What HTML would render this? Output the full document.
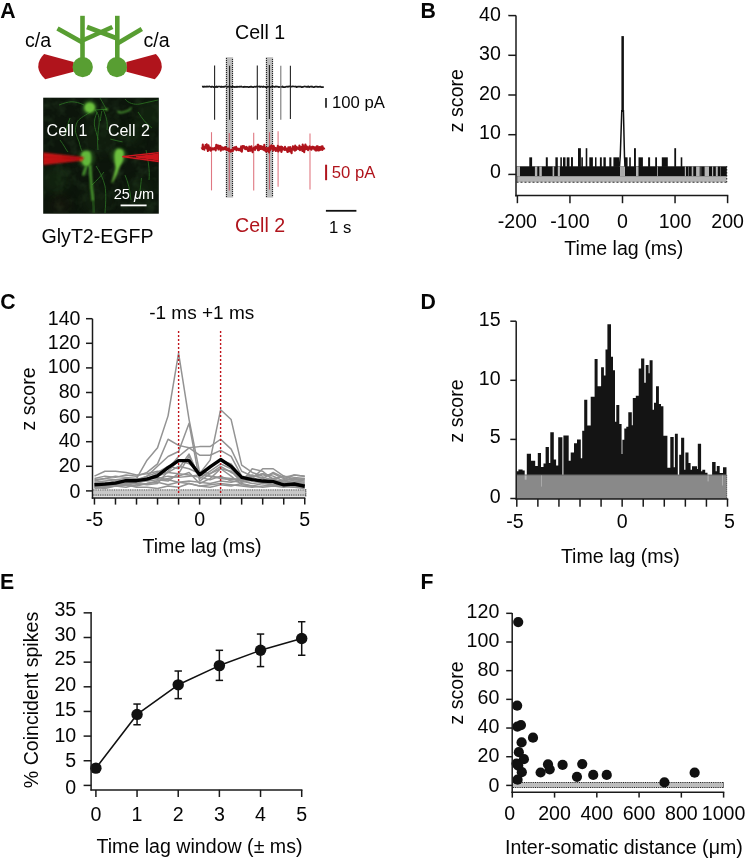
<!DOCTYPE html>
<html><head><meta charset="utf-8"><style>
html,body{margin:0;padding:0;background:#fff;}
body{width:746px;height:860px;overflow:hidden;}
svg{display:block;font-family:"Liberation Sans", sans-serif;will-change:transform;}
</style></head><body>
<svg width="746" height="860" viewBox="0 0 746 860">
<rect width="746" height="860" fill="#fff"/>
<text x="0" y="0" font-size="22.6" font-weight="bold" fill="#050505" transform="translate(0.2,17.9) scale(0.94,1)">A</text>
<text x="0" y="0" font-size="22.6" font-weight="bold" fill="#050505" transform="translate(420.4,17.8) scale(0.94,1)">B</text>
<text x="0" y="0" font-size="22.6" font-weight="bold" fill="#050505" transform="translate(0.2,308.6) scale(0.94,1)">C</text>
<text x="0" y="0" font-size="22.6" font-weight="bold" fill="#050505" transform="translate(420.6,308.5) scale(0.94,1)">D</text>
<text x="0" y="0" font-size="22.6" font-weight="bold" fill="#050505" transform="translate(0.1,589.2) scale(0.94,1)">E</text>
<text x="0" y="0" font-size="22.6" font-weight="bold" fill="#050505" transform="translate(420.6,588.8) scale(0.94,1)">F</text>
<text x="25.00" y="46.50" font-size="19.6" text-anchor="start" fill="#050505" font-weight="normal" >c/a</text>
<text x="143.50" y="46.50" font-size="19.6" text-anchor="start" fill="#050505" font-weight="normal" >c/a</text>
<path d="M73.6,62 L44.1,54 Q31.8,66.6 45.2,79.2 L73.6,71.7 Z" fill="#b0141c"/>
<path d="M126.4,62 L155.9,54 Q168.2,66.6 154.8,79.2 L126.4,71.7 Z" fill="#b0141c"/>
<line x1="82.50" y1="15.80" x2="82.50" y2="62.00" stroke="#589e32" stroke-width="4.6" />
<line x1="117.30" y1="15.80" x2="117.30" y2="62.00" stroke="#589e32" stroke-width="4.6" />
<line x1="82.50" y1="42.50" x2="57.50" y2="28.50" stroke="#589e32" stroke-width="4.6" />
<line x1="82.50" y1="40.50" x2="112.40" y2="27.00" stroke="#589e32" stroke-width="4.6" />
<line x1="117.30" y1="38.50" x2="87.00" y2="27.00" stroke="#589e32" stroke-width="4.6" />
<line x1="117.30" y1="43.50" x2="141.80" y2="29.00" stroke="#589e32" stroke-width="4.6" />
<circle cx="82.7" cy="67.1" r="10.2" fill="#589e32"/>
<circle cx="116.9" cy="67.2" r="10.1" fill="#589e32"/>
<defs>
<filter id="bl1" x="-50%" y="-50%" width="200%" height="200%"><feGaussianBlur stdDeviation="1.3"/></filter>
<filter id="bl2" x="-50%" y="-50%" width="200%" height="200%"><feGaussianBlur stdDeviation="1.0"/></filter>
<filter id="bl3" x="-50%" y="-50%" width="200%" height="200%"><feGaussianBlur stdDeviation="1.6"/></filter>
<filter id="bl5" x="-50%" y="-50%" width="200%" height="200%"><feGaussianBlur stdDeviation="0.5"/></filter>
<filter id="bl4" x="-50%" y="-50%" width="200%" height="200%"><feGaussianBlur stdDeviation="4"/></filter>
<filter id="tex" x="0" y="0" width="100%" height="100%">
 <feTurbulence type="fractalNoise" baseFrequency="0.09" numOctaves="3" seed="4" result="n"/>
 <feColorMatrix in="n" type="matrix" values="0 0 0 0 0.07  0 0 0 0 0.18  0 0 0 0 0.06  0 0 0 1.4 -0.62"/>
</filter>
<clipPath id="phc"><rect x="43.2" y="97.7" width="115.6" height="116"/></clipPath>
</defs>
<rect x="43.20" y="97.70" width="115.60" height="116.00" fill="#0c150b" />
<g clip-path="url(#phc)">
<rect x="43.2" y="97.7" width="115.6" height="116" filter="url(#tex)" opacity="0.35"/>
<circle cx="55" cy="180" r="14" fill="#1f3a18" opacity="0.35" filter="url(#bl4)"/>
<circle cx="150" cy="115" r="14" fill="#1f3a18" opacity="0.35" filter="url(#bl4)"/>
<circle cx="100" cy="135" r="20" fill="#1c3616" opacity="0.25" filter="url(#bl4)"/>
<circle cx="140" cy="190" r="12" fill="#1f3a18" opacity="0.3" filter="url(#bl4)"/>
<circle cx="96" cy="200" r="14" fill="#1c3616" opacity="0.3" filter="url(#bl4)"/>
<circle cx="60" cy="205" r="10" fill="#2a1810" opacity="0.25" filter="url(#bl4)"/>
<circle cx="132" cy="135" r="10" fill="#1f3a18" opacity="0.3" filter="url(#bl4)"/>
<path d="M91,111.5 C86,115 80,118 77.6,121.1 C75.5,125 75,130 75.6,132.4 C76.5,136 78,139 79.2,142 C80,146 81,149 82,151" stroke="#2f7a26" stroke-width="1.0" fill="none" opacity="0.75" filter="url(#bl5)"/>
<path d="M94.5,109.9 C98,112 100,118 99,125 C98,132 97,140 98,150" stroke="#2f7a26" stroke-width="1.0" fill="none" opacity="0.75" filter="url(#bl5)"/>
<path d="M59,105 C64,103 68,102 71,101.8 C75,101.5 80,103 84,105" stroke="#2f7a26" stroke-width="1.0" fill="none" opacity="0.75" filter="url(#bl5)"/>
<path d="M100,98 C103,103 105,107 106.6,109.5" stroke="#2f7a26" stroke-width="1.0" fill="none" opacity="0.75" filter="url(#bl5)"/>
<path d="M103,109 C106,116 108,122 107,130" stroke="#2f7a26" stroke-width="1.0" fill="none" opacity="0.75" filter="url(#bl5)"/>
<path d="M125,99 C128,103 134,105 140,104 C146,103 152,101 158,100" stroke="#2f7a26" stroke-width="1.0" fill="none" opacity="0.75" filter="url(#bl5)"/>
<path d="M138,112 C142,118 146,124 152,128" stroke="#2f7a26" stroke-width="1.0" fill="none" opacity="0.75" filter="url(#bl5)"/>
<path d="M96,166 C100,172 103,178 105,186 C106,192 106,200 105,213" stroke="#2f7a26" stroke-width="1.0" fill="none" opacity="0.75" filter="url(#bl5)"/>
<path d="M92,185 C97,180 101,176 104,172" stroke="#2f7a26" stroke-width="1.0" fill="none" opacity="0.75" filter="url(#bl5)"/>
<path d="M141.5,178 C141,183 140.5,187 140,191" stroke="#2f7a26" stroke-width="1.0" fill="none" opacity="0.75" filter="url(#bl5)"/>
<path d="M146,150 C148,160 150,170 149,180" stroke="#2f7a26" stroke-width="1.0" fill="none" opacity="0.75" filter="url(#bl5)"/>
<path d="M60,140 C64,145 66,150 68,152" stroke="#2f7a26" stroke-width="1.0" fill="none" opacity="0.75" filter="url(#bl5)"/>
<path d="M125,175 C128,182 130,190 131,200" stroke="#2f7a26" stroke-width="1.0" fill="none" opacity="0.75" filter="url(#bl5)"/>
<path d="M70,118 C68,124 66,130 65,136" stroke="#2f7a26" stroke-width="1.0" fill="none" opacity="0.75" filter="url(#bl5)"/>
<path d="M97.2,111.9 C95,117 94,121 94.4,125 C95,129 96,131 96.3,132.5 C97,135 97.8,138 98.2,140" stroke="#2f7a26" stroke-width="1.0" fill="none" opacity="0.75" filter="url(#bl5)"/>
<path d="M101.9,111 C101,115 100.5,118 100.5,121" stroke="#2f7a26" stroke-width="1.0" fill="none" opacity="0.75" filter="url(#bl5)"/>
<path d="M110.3,139.1 C114,140 118,141 122.5,141.9" stroke="#2f7a26" stroke-width="1.0" fill="none" opacity="0.75" filter="url(#bl5)"/>
<path d="M95,110 C99,109.5 103,109.3 106.6,109.5" stroke="#2f7a26" stroke-width="1.0" fill="none" opacity="0.75" filter="url(#bl5)"/>
<path d="M117.5,111.5 C119.5,112.6 121.5,112.8 123.1,112.3 C125.5,111.6 127.5,110.8 128.8,110.3 C130,109.5 130.8,108.5 131.2,107.5" stroke="#4da034" stroke-width="1.5" fill="none" filter="url(#bl2)"/>
<circle cx="106.6" cy="109.5" r="1.4" fill="#58ad38" filter="url(#bl2)"/>
<circle cx="102.6" cy="108.3" r="1.0" fill="#3f8a2c" filter="url(#bl2)"/>
<circle cx="89.7" cy="107.6" r="8" fill="#3a8a2a" opacity="0.35" filter="url(#bl3)"/>
<circle cx="86.5" cy="158.5" r="9" fill="#3a8a2a" opacity="0.35" filter="url(#bl3)"/>
<circle cx="119" cy="156" r="8.5" fill="#3a8a2a" opacity="0.35" filter="url(#bl3)"/>
<ellipse cx="89.7" cy="107.6" rx="5.5" ry="5.3" fill="#6cc03c" filter="url(#bl2)"/>
<path d="M81.5,153 C83,150.5 87,150 89.5,151.5 C91.5,153.5 91.8,158 91,162 C90.2,165 88,166.5 86,166.5 C83.5,166 81.5,163 81,159 C80.8,156.5 81,154.5 81.5,153 Z" fill="#62b83a" filter="url(#bl2)"/>
<path d="M90,165 C90.5,172 91,180 91.5,187 C92,192 92.8,196 93,201" stroke="#4fa632" stroke-width="2.4" fill="none" filter="url(#bl2)"/>
<path d="M86.4,166.5 C85,169.5 84,172.5 83.2,175.5" stroke="#4fa632" stroke-width="2.3" fill="none" filter="url(#bl2)"/>
<path d="M93,201 C93.5,205 94,209 94.2,213" stroke="#2f7424" stroke-width="1.6" fill="none" filter="url(#bl2)"/>
<path d="M116,150 C118,148 122,148.5 123.5,151 C124.5,154 124,158.5 122.5,162 C121,165 119.5,167 118.5,170 C117.5,174 115,178 112.5,183 L111.5,182.5 C113,178 114.5,173 115.5,168 C115,164 114.3,160 114.3,156 C114.3,153.5 115,151.5 116,150 Z" fill="#6cc03e" filter="url(#bl2)"/>
<path d="M43,152.4 L83.6,157.2 L83.6,158.6 L81.6,160.5 L43,164.9 Z" fill="#cc1419" filter="url(#bl2)"/>
<path d="M43,157 L83,158 M43,161.5 L82,159.2 M62,157.6 L76,158.3" stroke="#8a0c10" stroke-width="0.7" fill="none" filter="url(#bl2)"/>
<circle cx="81" cy="160.2" r="1.0" fill="#e08a20" filter="url(#bl2)"/>
<path d="M159,152.2 L122.3,156.4 L122.3,157.2 L159,161.9 Z" fill="#b0141c" opacity="0.35" filter="url(#bl2)"/>
<path d="M159,152.6 L122.3,156.7 L159,161.5" stroke="#d41820" stroke-width="1.3" fill="none" filter="url(#bl5)"/>
<path d="M159,153.6 L136,156.2 L136,157.4 L159,160.6 Z" fill="#cc161e" filter="url(#bl5)"/>
</g>
<text x="46.60" y="135.90" font-size="16" text-anchor="start" fill="#fff" font-weight="normal" >Cell 1</text>
<text x="107.90" y="135.90" font-size="16" text-anchor="start" fill="#fff" font-weight="normal" word-spacing="1.2">Cell 2</text>
<text x="113.7" y="198.6" font-size="14.6" fill="#fff">25 <tspan font-style="italic">μ</tspan>m</text>
<line x1="120.60" y1="205.40" x2="146.60" y2="205.40" stroke="#fff" stroke-width="1.8" />
<text x="41.50" y="242.80" font-size="19.6" text-anchor="start" fill="#050505" font-weight="normal" >GlyT2-EGFP</text>
<text x="235.00" y="38.60" font-size="19.6" text-anchor="start" fill="#050505" font-weight="normal" >Cell 1</text>
<text x="235.00" y="231.90" font-size="19.6" text-anchor="start" fill="#b0141c" font-weight="normal" >Cell 2</text>
<rect x="225.80" y="57.20" width="7.30" height="140.40" fill="#bdbdbd" />
<line x1="226.50" y1="58.00" x2="226.50" y2="197.00" stroke="#222" stroke-width="1.1" stroke-dasharray="1 1"/>
<line x1="232.50" y1="59.00" x2="232.50" y2="197.00" stroke="#222" stroke-width="1.1" stroke-dasharray="1 1"/>
<rect x="265.80" y="57.20" width="7.30" height="140.40" fill="#bdbdbd" />
<line x1="266.50" y1="58.00" x2="266.50" y2="197.00" stroke="#222" stroke-width="1.1" stroke-dasharray="1 1"/>
<line x1="272.50" y1="59.00" x2="272.50" y2="197.00" stroke="#222" stroke-width="1.1" stroke-dasharray="1 1"/>
<polyline points="202.00,86.66 202.70,86.52 203.40,86.92 204.10,86.46 204.80,86.83 205.50,86.69 206.20,86.45 206.90,86.81 207.60,86.43 208.30,86.75 209.00,86.46 209.70,86.47 210.40,86.74 211.10,87.06 211.80,86.50 212.50,86.58 213.20,86.90 213.90,87.16 214.60,86.86 215.30,86.72 216.00,87.18 216.70,86.44 217.40,87.09 218.10,86.63 218.80,86.52 219.50,86.49 220.20,86.65 220.90,87.05 221.60,86.54 222.30,86.87 223.00,86.91 223.70,86.70 224.40,86.84 225.10,86.45 225.80,86.45 226.50,86.56 227.20,86.94 227.90,86.74 228.60,86.65 229.30,86.87 230.00,86.76 230.70,86.64 231.40,87.04 232.10,86.96 232.80,86.60 233.50,86.86 234.20,86.82 234.90,87.10 235.60,86.98 236.30,86.63 237.00,87.18 237.70,86.49 238.40,86.73 239.10,87.01 239.80,86.52 240.50,86.79 241.20,86.43 241.90,86.93 242.60,87.01 243.30,86.86 244.00,87.10 244.70,86.65 245.40,86.96 246.10,86.88 246.80,86.86 247.50,86.76 248.20,87.07 248.90,87.16 249.60,86.78 250.30,86.93 251.00,86.45 251.70,86.96 252.40,86.92 253.10,87.19 253.80,87.06 254.50,86.63 255.20,86.71 255.90,86.93 256.60,86.42 257.30,86.77 258.00,86.53 258.70,86.49 259.40,86.45 260.10,87.01 260.80,86.50 261.50,86.60 262.20,86.71 262.90,87.10 263.60,86.46 264.30,86.76 265.00,86.84 265.70,87.11 266.40,87.06 267.10,87.09 267.80,86.62 268.50,86.73 269.20,86.69 269.90,87.11 270.60,87.17 271.30,86.52 272.00,86.54 272.70,86.59 273.40,86.59 274.10,86.79 274.80,86.87 275.50,86.61 276.20,86.40 276.90,86.74 277.60,86.70 278.30,86.85 279.00,87.16 279.70,86.95 280.40,86.81 281.10,86.89 281.80,86.94 282.50,86.44 283.20,87.12 283.90,87.02 284.60,87.10 285.30,87.04 286.00,86.71 286.70,86.72 287.40,86.48 288.10,86.91 288.80,86.45 289.50,86.45 290.20,86.57 290.90,86.53 291.60,86.67 292.30,86.44 293.00,86.40 293.70,86.52 294.40,86.48 295.10,86.69 295.80,86.42 296.50,87.10 297.20,86.89 297.90,86.52 298.60,86.60 299.30,86.68 300.00,86.69 300.70,86.50 301.40,87.08 302.10,87.19 302.80,86.77 303.50,86.79 304.20,86.47 304.90,86.48 305.60,86.67 306.30,86.61 307.00,87.06 307.70,86.53 308.40,86.42 309.10,87.16 309.80,86.82 310.50,86.52 311.20,86.83 311.90,86.42 312.60,86.82 313.30,87.18 314.00,87.09 314.70,86.96 315.40,86.61 316.10,86.69 316.80,86.53 317.50,87.02 318.20,86.83 318.90,87.02 319.60,86.66 320.30,86.58 321.00,87.05 321.70,87.19 322.40,87.08 323.10,87.04 323.80,87.05" fill="none" stroke="#1a1a1a" stroke-width="1.7" stroke-linejoin="round" />
<line x1="214.60" y1="65.40" x2="214.60" y2="119.70" stroke="#222" stroke-width="1.1" />
<line x1="229.60" y1="65.80" x2="229.60" y2="119.70" stroke="#222" stroke-width="1.1" />
<line x1="257.30" y1="65.40" x2="257.30" y2="119.70" stroke="#222" stroke-width="1.1" />
<line x1="269.40" y1="65.00" x2="269.40" y2="119.00" stroke="#222" stroke-width="1.1" />
<line x1="280.80" y1="65.80" x2="280.80" y2="119.70" stroke="#777" stroke-width="1.1" />
<line x1="290.40" y1="65.80" x2="290.40" y2="119.00" stroke="#222" stroke-width="1.1" />
<line x1="211.50" y1="132.20" x2="211.50" y2="190.40" stroke="#cc2030" stroke-width="1.1" opacity="0.6"/>
<line x1="229.30" y1="133.10" x2="229.30" y2="190.40" stroke="#cc2030" stroke-width="1.1" opacity="0.6"/>
<line x1="253.70" y1="132.80" x2="253.70" y2="190.40" stroke="#cc2030" stroke-width="1.1" opacity="0.6"/>
<line x1="269.50" y1="132.20" x2="269.50" y2="189.60" stroke="#cc2030" stroke-width="1.1" opacity="0.6"/>
<line x1="278.10" y1="131.30" x2="278.10" y2="186.70" stroke="#cc2030" stroke-width="1.1" opacity="0.6"/>
<line x1="310.00" y1="133.50" x2="310.00" y2="189.40" stroke="#cc2030" stroke-width="1.1" opacity="0.6"/>
<polyline points="201.60,147.19 201.90,147.81 202.20,148.08 202.50,149.06 202.80,144.50 203.10,148.31 203.40,147.62 203.70,148.52 204.00,148.73 204.30,149.80 204.60,146.75 204.90,148.22 205.20,147.43 205.50,145.11 205.80,145.52 206.10,147.79 206.40,146.51 206.70,144.41 207.00,148.63 207.30,147.42 207.60,148.86 207.90,151.01 208.20,147.84 208.50,145.41 208.80,147.65 209.10,148.37 209.40,149.58 209.70,147.65 210.00,148.65 210.30,147.66 210.60,150.59 210.90,150.46 211.20,148.70 211.50,149.47 211.80,148.58 212.10,149.41 212.40,148.30 212.70,148.53 213.00,148.68 213.30,149.44 213.60,149.35 213.90,148.43 214.20,149.20 214.50,148.17 214.80,148.07 215.10,147.65 215.40,147.72 215.70,150.42 216.00,147.64 216.30,144.69 216.60,148.14 216.90,147.13 217.20,145.69 217.50,146.55 217.80,146.50 218.10,145.39 218.40,149.52 218.70,147.26 219.00,148.82 219.30,148.37 219.60,148.73 219.90,145.83 220.20,147.61 220.50,146.01 220.80,150.62 221.10,148.32 221.40,148.34 221.70,148.32 222.00,147.34 222.30,148.49 222.60,148.50 222.90,149.60 223.20,148.11 223.50,147.96 223.80,149.41 224.10,147.58 224.40,147.85 224.70,148.08 225.00,148.59 225.30,147.13 225.60,149.47 225.90,147.43 226.20,149.56 226.50,148.15 226.80,148.40 227.10,150.07 227.40,149.44 227.70,148.74 228.00,148.93 228.30,149.09 228.60,148.47 228.90,150.94 229.20,149.08 229.50,150.98 229.80,150.38 230.10,150.08 230.40,150.88 230.70,151.75 231.00,151.01 231.30,150.64 231.60,149.75 231.90,150.21 232.20,149.50 232.50,149.68 232.80,151.10 233.10,149.87 233.40,148.08 233.70,148.78 234.00,148.94 234.30,147.34 234.60,147.97 234.90,149.36 235.20,149.41 235.50,147.91 235.80,149.52 236.10,146.89 236.40,148.13 236.70,150.28 237.00,149.15 237.30,149.11 237.60,148.48 237.90,148.86 238.20,149.09 238.50,149.35 238.80,150.14 239.10,148.85 239.40,148.82 239.70,149.40 240.00,148.96 240.30,149.08 240.60,150.77 240.90,148.07 241.20,146.41 241.50,147.49 241.80,151.70 242.10,150.16 242.40,147.97 242.70,146.02 243.00,146.63 243.30,147.61 243.60,147.77 243.90,146.08 244.20,146.76 244.50,147.37 244.80,147.67 245.10,148.88 245.40,149.15 245.70,147.26 246.00,147.12 246.30,146.93 246.60,148.90 246.90,147.17 247.20,147.99 247.50,149.73 247.80,149.34 248.10,150.99 248.40,151.04 248.70,148.85 249.00,149.94 249.30,146.49 249.60,147.04 249.90,148.88 250.20,150.80 250.50,150.08 250.80,148.49 251.10,150.48 251.40,146.30 251.70,149.82 252.00,148.26 252.30,150.32 252.60,152.20 252.90,148.46 253.20,148.76 253.50,148.07 253.80,149.30 254.10,148.18 254.40,147.99 254.70,147.24 255.00,150.00 255.30,147.40 255.60,146.56 255.90,146.81 256.20,147.83 256.50,147.63 256.80,148.26 257.10,148.44 257.40,147.39 257.70,144.81 258.00,150.11 258.30,144.87 258.60,149.07 258.90,150.25 259.20,146.18 259.50,147.24 259.80,147.10 260.10,146.05 260.40,146.84 260.70,148.92 261.00,148.63 261.30,147.10 261.60,146.21 261.90,146.83 262.20,147.48 262.50,149.24 262.80,148.85 263.10,147.11 263.40,149.54 263.70,149.89 264.00,149.60 264.30,144.74 264.60,150.57 264.90,150.11 265.20,148.81 265.50,149.19 265.80,147.70 266.10,151.70 266.40,148.93 266.70,149.75 267.00,149.90 267.30,149.90 267.60,151.10 267.90,148.05 268.20,150.06 268.50,148.83 268.80,149.39 269.10,152.44 269.40,150.19 269.70,146.62 270.00,149.76 270.30,150.08 270.60,149.23 270.90,146.05 271.20,148.47 271.50,145.40 271.80,148.26 272.10,148.21 272.40,147.47 272.70,146.07 273.00,149.68 273.30,150.55 273.60,145.84 273.90,146.80 274.20,147.26 274.50,148.59 274.80,147.74 275.10,148.06 275.40,149.66 275.70,150.93 276.00,148.23 276.30,149.86 276.60,148.20 276.90,150.80 277.20,149.19 277.50,149.34 277.80,145.86 278.10,148.13 278.40,151.55 278.70,146.78 279.00,148.46 279.30,146.81 279.60,150.17 279.90,147.81 280.20,148.75 280.50,149.16 280.80,150.65 281.10,146.61 281.40,152.00 281.70,150.66 282.00,149.26 282.30,147.12 282.60,148.08 282.90,149.55 283.20,149.32 283.50,148.17 283.80,148.88 284.10,148.29 284.40,148.65 284.70,149.92 285.00,146.85 285.30,148.89 285.60,149.63 285.90,148.30 286.20,149.95 286.50,150.26 286.80,149.96 287.10,149.41 287.40,151.79 287.70,151.95 288.00,150.71 288.30,147.27 288.60,149.68 288.90,149.44 289.20,148.88 289.50,151.19 289.80,149.45 290.10,147.10 290.40,149.43 290.70,151.03 291.00,152.08 291.30,149.13 291.60,153.24 291.90,148.83 292.20,148.28 292.50,149.55 292.80,146.30 293.10,146.48 293.40,149.29 293.70,149.04 294.00,148.32 294.30,150.19 294.60,148.25 294.90,150.60 295.20,145.67 295.50,146.42 295.80,149.29 296.10,149.79 296.40,148.52 296.70,147.03 297.00,148.29 297.30,147.54 297.60,148.10 297.90,148.56 298.20,149.05 298.50,148.34 298.80,148.48 299.10,148.82 299.40,145.60 299.70,146.20 300.00,150.10 300.30,149.90 300.60,149.52 300.90,148.95 301.20,148.77 301.50,146.99 301.80,149.34 302.10,148.32 302.40,150.97 302.70,144.47 303.00,149.18 303.30,146.00 303.60,148.28 303.90,149.12 304.20,152.18 304.50,146.56 304.80,149.84 305.10,147.99 305.40,144.44 305.70,149.21 306.00,147.25 306.30,148.41 306.60,148.94 306.90,146.43 307.20,147.85 307.50,149.35 307.80,148.71 308.10,150.13 308.40,147.52 308.70,148.72 309.00,146.94 309.30,148.16 309.60,146.28 309.90,148.78 310.20,147.48 310.50,147.09 310.80,148.61 311.10,147.45 311.40,149.77 311.70,147.80 312.00,147.03 312.30,146.71 312.60,147.17 312.90,148.44 313.20,147.26 313.50,147.67 313.80,146.89 314.10,147.68 314.40,149.32 314.70,147.47 315.00,147.49 315.30,147.33 315.60,150.36 315.90,148.01 316.20,149.85 316.50,150.33 316.80,146.23 317.10,150.34 317.40,149.71 317.70,146.40 318.00,149.52 318.30,149.37 318.60,148.75 318.90,150.52 319.20,148.09 319.50,147.04 319.80,149.04 320.10,149.93 320.40,147.70 320.70,149.58 321.00,147.25 321.30,146.56 321.60,147.92 321.90,146.50 322.20,150.03 322.50,146.20 322.80,149.29 323.10,148.43 323.40,148.14 323.70,148.21 324.00,148.48 324.30,149.46" fill="none" stroke="#b0141c" stroke-width="2.1" stroke-linejoin="round" />
<line x1="326.00" y1="98.00" x2="326.00" y2="107.80" stroke="#111" stroke-width="1.6" />
<text x="332.00" y="107.80" font-size="16.7" text-anchor="start" fill="#050505" font-weight="normal" >100 pA</text>
<line x1="326.10" y1="164.70" x2="326.10" y2="180.20" stroke="#b0141c" stroke-width="2" />
<text x="331.80" y="178.00" font-size="16.7" text-anchor="start" fill="#b0141c" font-weight="normal" >50 pA</text>
<line x1="325.90" y1="210.80" x2="356.40" y2="210.80" stroke="#111" stroke-width="1.8" />
<text x="329.10" y="232.70" font-size="16.7" text-anchor="start" fill="#050505" font-weight="normal" >1 s</text>
<rect x="516.50" y="166.10" width="210.20" height="16.20" fill="#b4b4b4" />
<line x1="516.50" y1="182.30" x2="726.70" y2="182.30" stroke="#333" stroke-width="1.1" stroke-dasharray="2 2"/>
<line x1="726.70" y1="166.10" x2="726.70" y2="182.30" stroke="#333" stroke-width="1.1" stroke-dasharray="1.5 1.5"/>
<line x1="517.20" y1="166.50" x2="517.20" y2="182.30" stroke="#333" stroke-width="0.9" stroke-dasharray="1 1"/>
<rect x="516.50" y="166.40" width="210.20" height="9.80" fill="#111" />
<rect x="516.50" y="166.40" width="3.50" height="9.80" fill="#b4b4b4" />
<rect x="534.90" y="166.40" width="2.40" height="9.80" fill="#b4b4b4" />
<rect x="539.30" y="166.40" width="2.50" height="9.80" fill="#b4b4b4" />
<rect x="552.60" y="166.40" width="1.60" height="9.80" fill="#b4b4b4" />
<rect x="557.80" y="166.40" width="2.10" height="9.80" fill="#b4b4b4" />
<rect x="620.00" y="166.40" width="5.00" height="9.80" fill="#b4b4b4" />
<rect x="636.00" y="166.40" width="2.50" height="9.80" fill="#b4b4b4" />
<rect x="657.20" y="166.40" width="0.80" height="9.80" fill="#b4b4b4" />
<rect x="684.80" y="166.40" width="1.20" height="9.80" fill="#b4b4b4" />
<rect x="691.70" y="166.40" width="1.60" height="9.80" fill="#b4b4b4" />
<rect x="696.10" y="166.40" width="3.60" height="9.80" fill="#b4b4b4" />
<rect x="704.60" y="166.40" width="4.40" height="9.80" fill="#b4b4b4" />
<rect x="712.00" y="166.40" width="1.20" height="9.80" fill="#b4b4b4" />
<rect x="715.80" y="166.40" width="2.00" height="9.80" fill="#b4b4b4" />
<rect x="700.50" y="166.40" width="0.80" height="9.80" fill="#777" />
<rect x="688.00" y="166.40" width="0.80" height="9.80" fill="#777" />
<rect x="720.00" y="166.40" width="0.80" height="9.80" fill="#777" />
<rect x="529.30" y="157.33" width="2.80" height="9.57" fill="#111" />
<rect x="545.80" y="157.33" width="2.00" height="9.57" fill="#111" />
<rect x="555.40" y="157.33" width="2.40" height="9.57" fill="#111" />
<rect x="560.30" y="157.33" width="1.60" height="9.57" fill="#111" />
<rect x="563.00" y="157.33" width="2.50" height="9.57" fill="#111" />
<rect x="566.70" y="157.33" width="2.80" height="9.57" fill="#111" />
<rect x="571.10" y="157.33" width="1.60" height="9.57" fill="#111" />
<rect x="571.20" y="157.33" width="1.60" height="9.57" fill="#111" />
<rect x="581.30" y="157.33" width="1.60" height="9.57" fill="#111" />
<rect x="589.30" y="157.33" width="3.60" height="9.57" fill="#111" />
<rect x="595.00" y="157.33" width="1.50" height="9.57" fill="#111" />
<rect x="599.90" y="157.33" width="1.90" height="9.57" fill="#111" />
<rect x="603.40" y="157.33" width="2.40" height="9.57" fill="#111" />
<rect x="609.30" y="157.33" width="2.10" height="9.57" fill="#111" />
<rect x="613.40" y="157.33" width="5.70" height="9.57" fill="#111" />
<rect x="624.50" y="157.33" width="3.10" height="9.57" fill="#111" />
<rect x="629.20" y="157.33" width="1.60" height="9.57" fill="#111" />
<rect x="638.50" y="157.33" width="4.40" height="9.57" fill="#111" />
<rect x="648.10" y="157.33" width="2.00" height="9.57" fill="#111" />
<rect x="655.20" y="157.33" width="1.80" height="9.57" fill="#111" />
<rect x="661.80" y="157.33" width="6.00" height="9.57" fill="#111" />
<rect x="680.70" y="157.33" width="1.60" height="9.57" fill="#111" />
<rect x="578.00" y="148.20" width="2.90" height="18.70" fill="#111" />
<rect x="585.70" y="148.20" width="1.60" height="18.70" fill="#111" />
<rect x="634.00" y="148.20" width="1.90" height="18.70" fill="#111" />
<rect x="674.30" y="148.20" width="1.80" height="18.70" fill="#111" />
<rect x="621.40" y="36.10" width="2.50" height="75.90" fill="#111" />
<polyline points="619.50,166.40 620.30,155.00 621.80,110.00" fill="none" stroke="#111" stroke-width="1.5" stroke-linejoin="round" />
<polyline points="623.40,110.00 624.50,157.00 625.10,166.40" fill="none" stroke="#111" stroke-width="1.5" stroke-linejoin="round" />
<rect x="620.40" y="166.40" width="4.00" height="9.80" fill="#aaa" />
<line x1="516.00" y1="15.60" x2="516.00" y2="196.40" stroke="#1a1a1a" stroke-width="1.5" />
<line x1="515.30" y1="195.60" x2="728.30" y2="195.60" stroke="#1a1a1a" stroke-width="1.5" />
<line x1="508.30" y1="174.40" x2="516.00" y2="174.40" stroke="#1a1a1a" stroke-width="1.5" />
<text x="500.80" y="178.30" font-size="19.6" text-anchor="end" fill="#050505" font-weight="normal" >0</text>
<line x1="508.30" y1="134.70" x2="516.00" y2="134.70" stroke="#1a1a1a" stroke-width="1.5" />
<text x="500.80" y="138.80" font-size="19.6" text-anchor="end" fill="#050505" font-weight="normal" >10</text>
<line x1="508.30" y1="95.00" x2="516.00" y2="95.00" stroke="#1a1a1a" stroke-width="1.5" />
<text x="500.80" y="99.70" font-size="19.6" text-anchor="end" fill="#050505" font-weight="normal" >20</text>
<line x1="508.30" y1="55.30" x2="516.00" y2="55.30" stroke="#1a1a1a" stroke-width="1.5" />
<text x="500.80" y="60.20" font-size="19.6" text-anchor="end" fill="#050505" font-weight="normal" >30</text>
<line x1="508.30" y1="15.60" x2="516.00" y2="15.60" stroke="#1a1a1a" stroke-width="1.5" />
<text x="500.80" y="21.10" font-size="19.6" text-anchor="end" fill="#050505" font-weight="normal" >40</text>
<line x1="517.40" y1="195.60" x2="517.40" y2="203.20" stroke="#1a1a1a" stroke-width="1.5" />
<text x="517.40" y="228.00" font-size="19.6" text-anchor="middle" fill="#050505" font-weight="normal" >-200</text>
<line x1="569.95" y1="195.60" x2="569.95" y2="203.20" stroke="#1a1a1a" stroke-width="1.5" />
<text x="569.95" y="228.00" font-size="19.6" text-anchor="middle" fill="#050505" font-weight="normal" >-100</text>
<line x1="622.50" y1="195.60" x2="622.50" y2="203.20" stroke="#1a1a1a" stroke-width="1.5" />
<text x="622.50" y="228.00" font-size="19.6" text-anchor="middle" fill="#050505" font-weight="normal" >0</text>
<line x1="675.05" y1="195.60" x2="675.05" y2="203.20" stroke="#1a1a1a" stroke-width="1.5" />
<text x="675.05" y="228.00" font-size="19.6" text-anchor="middle" fill="#050505" font-weight="normal" >100</text>
<line x1="727.60" y1="195.60" x2="727.60" y2="203.20" stroke="#1a1a1a" stroke-width="1.5" />
<text x="727.60" y="228.00" font-size="19.6" text-anchor="middle" fill="#050505" font-weight="normal" >200</text>
<text x="623.80" y="255.00" font-size="19.6" text-anchor="middle" fill="#050505" font-weight="normal" >Time lag (ms)</text>
<text x="0" y="0" font-size="19.6" text-anchor="middle" fill="#050505" transform="translate(463.30,100.60) rotate(-90)">z score</text>
<rect x="93.30" y="489.30" width="213.00" height="7.20" fill="#c8c8c8" />
<line x1="93.30" y1="490.00" x2="306.30" y2="490.00" stroke="#555" stroke-width="1" stroke-dasharray="1 1.3"/>
<line x1="93.30" y1="495.00" x2="306.30" y2="495.00" stroke="#333" stroke-width="1" stroke-dasharray="1 1.3"/>
<line x1="305.80" y1="489.30" x2="305.80" y2="496.50" stroke="#333" stroke-width="1" stroke-dasharray="1 1"/>
<polyline points="94.45,481.06 104.96,478.60 115.48,479.83 125.99,481.06 136.51,478.60 147.02,460.15 157.54,447.85 168.06,415.87 178.57,353.14 189.08,419.56 199.60,472.45 210.12,476.14 220.63,478.60 231.14,479.83 241.66,478.60 252.18,476.14 262.69,477.37 273.20,479.83 283.72,481.06 294.24,478.60 304.75,479.83" fill="none" stroke="#939393" stroke-width="1.5" stroke-linejoin="round" />
<polyline points="94.45,485.98 104.96,483.52 115.48,481.06 125.99,482.29 136.51,479.83 147.02,476.14 157.54,466.30 168.06,456.46 178.57,451.54 189.08,423.25 199.60,481.06 210.12,473.68 220.63,466.30 231.14,472.45 241.66,476.14 252.18,478.60 262.69,481.06 273.20,479.83 283.72,482.29 294.24,483.52 304.75,484.75" fill="none" stroke="#939393" stroke-width="1.5" stroke-linejoin="round" />
<polyline points="94.45,478.60 104.96,476.14 115.48,477.37 125.99,474.91 136.51,476.14 147.02,472.45 157.54,463.84 168.06,439.24 178.57,445.39 189.08,447.85 199.60,446.62 210.12,446.62 220.63,439.24 231.14,449.08 241.66,471.22 252.18,476.14 262.69,473.68 273.20,478.60 283.72,476.14 294.24,479.83 304.75,478.60" fill="none" stroke="#939393" stroke-width="1.5" stroke-linejoin="round" />
<polyline points="94.45,483.52 104.96,484.75 115.48,482.29 125.99,481.06 136.51,483.52 147.02,479.83 157.54,476.14 168.06,472.45 178.57,466.30 189.08,468.76 199.60,473.68 210.12,460.15 220.63,409.72 231.14,419.56 241.66,465.07 252.18,472.45 262.69,476.14 273.20,473.68 283.72,478.60 294.24,481.06 304.75,482.29" fill="none" stroke="#939393" stroke-width="1.5" stroke-linejoin="round" />
<polyline points="94.45,484.75 104.96,482.29 115.48,483.52 125.99,479.83 136.51,481.06 147.02,478.60 157.54,473.68 168.06,468.76 178.57,456.46 189.08,447.85 199.60,455.23 210.12,455.23 220.63,450.31 231.14,456.46 241.66,476.14 252.18,478.60 262.69,468.76 273.20,468.76 283.72,476.14 294.24,479.83 304.75,481.06" fill="none" stroke="#939393" stroke-width="1.5" stroke-linejoin="round" />
<polyline points="94.45,476.14 104.96,471.22 115.48,471.22 125.99,472.45 136.51,474.91 147.02,473.68 157.54,471.22 168.06,472.45 178.57,473.68 189.08,456.46 199.60,476.14 210.12,466.30 220.63,460.15 231.14,463.84 241.66,477.37 252.18,474.91 262.69,478.60 273.20,472.45 283.72,477.37 294.24,474.91 304.75,476.14" fill="none" stroke="#939393" stroke-width="1.5" stroke-linejoin="round" />
<polyline points="94.45,487.21 104.96,485.98 115.48,484.75 125.99,483.52 136.51,481.06 147.02,476.14 157.54,472.45 168.06,466.30 178.57,468.76 189.08,454.00 199.60,478.60 210.12,471.22 220.63,463.84 231.14,468.76 241.66,481.06 252.18,483.52 262.69,482.29 273.20,484.75 283.72,483.52 294.24,484.75 304.75,485.98" fill="none" stroke="#939393" stroke-width="1.5" stroke-linejoin="round" />
<polyline points="94.45,488.44 104.96,487.21 115.48,485.98 125.99,487.21 136.51,484.75 147.02,483.52 157.54,481.06 168.06,478.60 178.57,476.14 189.08,472.45 199.60,483.52 210.12,478.60 220.63,468.76 231.14,476.14 241.66,484.75 252.18,485.98 262.69,483.52 273.20,484.75 283.72,485.98 294.24,487.21 304.75,488.44" fill="none" stroke="#939393" stroke-width="1.5" stroke-linejoin="round" />
<polyline points="94.45,482.29 104.96,481.06 115.48,479.83 125.99,478.60 136.51,479.83 147.02,477.37 157.54,478.60 168.06,476.14 178.57,477.37 189.08,476.14 199.60,474.91 210.12,476.14 220.63,477.37 231.14,478.60 241.66,479.83 252.18,477.37 262.69,473.68 273.20,476.14 283.72,481.06 294.24,482.29 304.75,483.52" fill="none" stroke="#939393" stroke-width="1.5" stroke-linejoin="round" />
<polyline points="94.45,487.21 104.96,485.98 115.48,485.98 125.99,484.75 136.51,485.98 147.02,483.52 157.54,482.29 168.06,484.75 178.57,482.29 189.08,483.52 199.60,485.98 210.12,484.75 220.63,483.52 231.14,484.75 241.66,485.98 252.18,487.21 262.69,485.98 273.20,484.75 283.72,485.98 294.24,487.21 304.75,487.21" fill="none" stroke="#939393" stroke-width="1.5" stroke-linejoin="round" />
<polyline points="94.45,484.75 104.96,485.98 115.48,483.52 125.99,484.75 136.51,482.29 147.02,481.06 157.54,479.83 168.06,481.06 178.57,473.68 189.08,474.91 199.60,477.37 210.12,479.83 220.63,476.14 231.14,481.06 241.66,482.29 252.18,468.76 262.69,471.22 273.20,479.83 283.72,476.14 294.24,477.37 304.75,478.60" fill="none" stroke="#939393" stroke-width="1.5" stroke-linejoin="round" />
<polyline points="94.45,479.83 104.96,478.60 115.48,476.14 125.99,477.37 136.51,478.60 147.02,479.83 157.54,477.37 168.06,479.83 178.57,482.29 189.08,481.06 199.60,482.29 210.12,483.52 220.63,481.06 231.14,482.29 241.66,479.83 252.18,481.06 262.69,478.60 273.20,482.29 283.72,479.83 294.24,474.91 304.75,476.14" fill="none" stroke="#939393" stroke-width="1.5" stroke-linejoin="round" />
<polyline points="94.45,487.21 104.96,488.44 115.48,485.98 125.99,484.75 136.51,487.21 147.02,487.21 157.54,488.44 168.06,485.98 178.57,487.21 189.08,483.52 199.60,485.98 210.12,487.21 220.63,484.75 231.14,485.98 241.66,483.52 252.18,485.98 262.69,487.21 273.20,485.98 283.72,487.21 294.24,485.98 304.75,487.21" fill="none" stroke="#939393" stroke-width="1.5" stroke-linejoin="round" />
<polyline points="94.45,483.52 104.96,483.52 115.48,485.98 125.99,484.75 136.51,483.52 147.02,484.75 157.54,483.52 168.06,471.22 178.57,460.15 189.08,463.84 199.60,471.22 210.12,473.68 220.63,468.76 231.14,471.22 241.66,482.29 252.18,479.83 262.69,483.52 273.20,482.29 283.72,484.75 294.24,483.52 304.75,484.75" fill="none" stroke="#939393" stroke-width="1.5" stroke-linejoin="round" />
<line x1="178.60" y1="331.00" x2="178.60" y2="494.00" stroke="#c0141c" stroke-width="1.4" stroke-dasharray="2 2"/>
<line x1="220.60" y1="331.00" x2="220.60" y2="494.00" stroke="#c0141c" stroke-width="1.4" stroke-dasharray="2 2"/>
<polyline points="94.45,484.75 104.96,484.13 115.48,483.15 125.99,480.69 136.51,480.69 147.02,479.09 157.54,475.77 168.06,467.65 178.57,460.64 189.08,460.64 199.60,474.79 210.12,466.91 220.63,459.53 231.14,466.42 241.66,477.37 252.18,479.58 262.69,481.06 273.20,481.67 283.72,484.87 294.24,484.01 304.75,486.23" fill="none" stroke="#000" stroke-width="3.4" stroke-linejoin="round" />
<line x1="92.50" y1="318.80" x2="92.50" y2="498.70" stroke="#1a1a1a" stroke-width="1.5" />
<line x1="91.80" y1="498.00" x2="305.30" y2="498.00" stroke="#1a1a1a" stroke-width="1.5" />
<line x1="86.00" y1="490.90" x2="92.50" y2="490.90" stroke="#1a1a1a" stroke-width="1.5" />
<text x="80.50" y="497.60" font-size="19.6" text-anchor="end" fill="#050505" font-weight="normal" >0</text>
<line x1="86.00" y1="466.30" x2="92.50" y2="466.30" stroke="#1a1a1a" stroke-width="1.5" />
<text x="80.50" y="471.70" font-size="19.6" text-anchor="end" fill="#050505" font-weight="normal" >20</text>
<line x1="86.00" y1="441.70" x2="92.50" y2="441.70" stroke="#1a1a1a" stroke-width="1.5" />
<text x="80.50" y="447.00" font-size="19.6" text-anchor="end" fill="#050505" font-weight="normal" >40</text>
<line x1="86.00" y1="417.10" x2="92.50" y2="417.10" stroke="#1a1a1a" stroke-width="1.5" />
<text x="80.50" y="422.60" font-size="19.6" text-anchor="end" fill="#050505" font-weight="normal" >60</text>
<line x1="86.00" y1="392.50" x2="92.50" y2="392.50" stroke="#1a1a1a" stroke-width="1.5" />
<text x="80.50" y="397.70" font-size="19.6" text-anchor="end" fill="#050505" font-weight="normal" >80</text>
<line x1="86.00" y1="367.90" x2="92.50" y2="367.90" stroke="#1a1a1a" stroke-width="1.5" />
<text x="80.50" y="372.80" font-size="19.6" text-anchor="end" fill="#050505" font-weight="normal" >100</text>
<line x1="86.00" y1="343.30" x2="92.50" y2="343.30" stroke="#1a1a1a" stroke-width="1.5" />
<text x="80.50" y="348.90" font-size="19.6" text-anchor="end" fill="#050505" font-weight="normal" >120</text>
<line x1="86.00" y1="318.70" x2="92.50" y2="318.70" stroke="#1a1a1a" stroke-width="1.5" />
<text x="80.50" y="324.50" font-size="19.6" text-anchor="end" fill="#050505" font-weight="normal" >140</text>
<line x1="94.45" y1="498.00" x2="94.45" y2="504.60" stroke="#1a1a1a" stroke-width="1.5" />
<line x1="115.48" y1="498.00" x2="115.48" y2="504.60" stroke="#1a1a1a" stroke-width="1.5" />
<line x1="136.51" y1="498.00" x2="136.51" y2="504.60" stroke="#1a1a1a" stroke-width="1.5" />
<line x1="157.54" y1="498.00" x2="157.54" y2="504.60" stroke="#1a1a1a" stroke-width="1.5" />
<line x1="178.57" y1="498.00" x2="178.57" y2="504.60" stroke="#1a1a1a" stroke-width="1.5" />
<line x1="199.60" y1="498.00" x2="199.60" y2="504.60" stroke="#1a1a1a" stroke-width="1.5" />
<line x1="220.63" y1="498.00" x2="220.63" y2="504.60" stroke="#1a1a1a" stroke-width="1.5" />
<line x1="241.66" y1="498.00" x2="241.66" y2="504.60" stroke="#1a1a1a" stroke-width="1.5" />
<line x1="262.69" y1="498.00" x2="262.69" y2="504.60" stroke="#1a1a1a" stroke-width="1.5" />
<line x1="283.72" y1="498.00" x2="283.72" y2="504.60" stroke="#1a1a1a" stroke-width="1.5" />
<line x1="304.75" y1="498.00" x2="304.75" y2="504.60" stroke="#1a1a1a" stroke-width="1.5" />
<text x="94.45" y="526.00" font-size="19.6" text-anchor="middle" fill="#050505" font-weight="normal" >-5</text>
<text x="199.60" y="526.00" font-size="19.6" text-anchor="middle" fill="#050505" font-weight="normal" >0</text>
<text x="304.75" y="526.00" font-size="19.6" text-anchor="middle" fill="#050505" font-weight="normal" >5</text>
<text x="202.00" y="552.60" font-size="19.6" text-anchor="middle" fill="#050505" font-weight="normal" >Time lag (ms)</text>
<text x="201.70" y="318.70" font-size="19" text-anchor="middle" fill="#050505" font-weight="normal" >-1 ms +1 ms</text>
<text x="0" y="0" font-size="19.6" text-anchor="middle" fill="#050505" transform="translate(35.00,399.00) rotate(-90)">z score</text>
<rect x="516.50" y="474.90" width="210.20" height="23.60" fill="#898989" />
<path d="M516.30,474.86 L516.30,471.31 L518.40,471.31 L518.40,469.42 L522.60,469.42 L522.60,470.49 L524.70,470.49 L524.70,474.86 L526.80,474.86 L526.80,453.70 L531.00,453.70 L531.00,460.68 L535.20,460.68 L535.20,466.00 L537.80,466.00 L537.80,452.99 L541.00,452.99 L541.00,467.06 L543.50,467.06 L543.50,463.39 L545.60,463.39 L545.60,447.08 L548.90,447.08 L548.90,463.04 L550.30,463.04 L550.30,432.31 L553.80,432.31 L553.80,459.49 L556.10,459.49 L556.10,465.40 L558.20,465.40 L558.20,437.15 L562.40,437.15 L562.40,474.86 L563.40,474.86 L563.40,435.50 L568.70,435.50 L568.70,460.68 L570.70,460.68 L570.70,452.40 L574.00,452.40 L574.00,443.18 L577.00,443.18 L577.00,439.40 L580.80,439.40 L580.80,458.31 L582.20,458.31 L582.20,430.77 L584.20,430.77 L584.20,399.80 L587.30,399.80 L587.30,425.57 L590.70,425.57 L590.70,396.85 L594.60,396.85 L594.60,359.02 L597.60,359.02 L597.60,386.21 L601.10,386.21 L601.10,367.30 L603.90,367.30 L603.90,375.57 L605.50,375.57 L605.50,349.57 L607.40,349.57 L607.40,324.15 L611.00,324.15 L611.00,356.66 L613.00,356.66 L613.00,370.25 L615.00,370.25 L615.00,421.67 L616.30,421.67 L616.30,405.12 L619.30,405.12 L619.30,424.03 L621.60,424.03 L621.60,454.06 L622.40,454.06 L622.40,439.87 L624.30,439.87 L624.30,428.41 L626.30,428.41 L626.30,426.75 L628.30,426.75 L628.30,412.21 L631.80,412.21 L631.80,425.22 L632.80,425.22 L632.80,398.03 L635.80,398.03 L635.80,395.67 L638.70,395.67 L638.70,368.48 L641.10,368.48 L641.10,358.43 L644.30,358.43 L644.30,382.66 L645.70,382.66 L645.70,364.93 L648.60,364.93 L648.60,373.21 L649.60,373.21 L649.60,360.21 L652.60,360.21 L652.60,409.85 L654.00,409.85 L654.00,402.76 L656.00,402.76 L656.00,386.21 L658.90,386.21 L658.90,403.94 L661.00,403.94 L661.00,406.30 L663.40,406.30 L663.40,435.85 L667.40,435.85 L667.40,467.77 L670.30,467.77 L670.30,437.04 L673.70,437.04 L673.70,467.30 L674.90,467.30 L674.90,433.73 L677.80,433.73 L677.80,474.86 L679.20,474.86 L679.20,454.77 L681.10,454.77 L681.10,437.86 L684.20,437.86 L684.20,469.78 L685.40,469.78 L685.40,452.40 L688.50,452.40 L688.50,463.04 L690.60,463.04 L690.60,469.78 L692.00,469.78 L692.00,466.35 L697.00,466.35 L697.00,468.95 L697.80,468.95 L697.80,443.66 L701.10,443.66 L701.10,471.31 L702.30,471.31 L702.30,469.66 L705.20,469.66 L705.20,472.85 L707.50,472.85 L707.50,474.86 L712.10,474.86 L712.10,461.98 L715.60,461.98 L715.60,471.31 L716.80,471.31 L716.80,466.11 L719.70,466.11 L719.70,473.09 L723.00,473.09 L723.00,467.30 L726.50,467.30 L726.50,474.86 Z" fill="#141414"/>
<rect x="524.70" y="475.00" width="1.90" height="4.70" fill="#b8b8b8" />
<rect x="541.20" y="475.00" width="0.70" height="11.60" fill="#b8b8b8" />
<rect x="707.60" y="474.90" width="1.00" height="6.50" fill="#b8b8b8" />
<rect x="722.00" y="474.90" width="0.80" height="10.60" fill="#b8b8b8" />
<rect x="516.5" y="474.9" width="210.2" height="23.6" fill="none" stroke="#222" stroke-width="0.9" stroke-dasharray="1 1"/>
<line x1="516.20" y1="321.20" x2="516.20" y2="499.70" stroke="#1a1a1a" stroke-width="1.5" />
<line x1="515.50" y1="499.00" x2="728.20" y2="499.00" stroke="#1a1a1a" stroke-width="1.5" />
<line x1="510.30" y1="498.50" x2="516.20" y2="498.50" stroke="#1a1a1a" stroke-width="1.5" />
<text x="500.60" y="503.10" font-size="19.6" text-anchor="end" fill="#050505" font-weight="normal" >0</text>
<line x1="510.30" y1="439.40" x2="516.20" y2="439.40" stroke="#1a1a1a" stroke-width="1.5" />
<text x="500.60" y="443.40" font-size="19.6" text-anchor="end" fill="#050505" font-weight="normal" >5</text>
<line x1="510.30" y1="380.30" x2="516.20" y2="380.30" stroke="#1a1a1a" stroke-width="1.5" />
<text x="500.60" y="384.60" font-size="19.6" text-anchor="end" fill="#050505" font-weight="normal" >10</text>
<line x1="510.30" y1="321.20" x2="516.20" y2="321.20" stroke="#1a1a1a" stroke-width="1.5" />
<text x="500.60" y="326.00" font-size="19.6" text-anchor="end" fill="#050505" font-weight="normal" >15</text>
<line x1="516.80" y1="499.00" x2="516.80" y2="506.70" stroke="#1a1a1a" stroke-width="1.5" />
<line x1="537.87" y1="499.00" x2="537.87" y2="506.70" stroke="#1a1a1a" stroke-width="1.5" />
<line x1="558.94" y1="499.00" x2="558.94" y2="506.70" stroke="#1a1a1a" stroke-width="1.5" />
<line x1="580.01" y1="499.00" x2="580.01" y2="506.70" stroke="#1a1a1a" stroke-width="1.5" />
<line x1="601.08" y1="499.00" x2="601.08" y2="506.70" stroke="#1a1a1a" stroke-width="1.5" />
<line x1="622.15" y1="499.00" x2="622.15" y2="506.70" stroke="#1a1a1a" stroke-width="1.5" />
<line x1="643.22" y1="499.00" x2="643.22" y2="506.70" stroke="#1a1a1a" stroke-width="1.5" />
<line x1="664.29" y1="499.00" x2="664.29" y2="506.70" stroke="#1a1a1a" stroke-width="1.5" />
<line x1="685.36" y1="499.00" x2="685.36" y2="506.70" stroke="#1a1a1a" stroke-width="1.5" />
<line x1="706.43" y1="499.00" x2="706.43" y2="506.70" stroke="#1a1a1a" stroke-width="1.5" />
<line x1="727.50" y1="499.00" x2="727.50" y2="506.70" stroke="#1a1a1a" stroke-width="1.5" />
<text x="514.90" y="528.30" font-size="19.6" text-anchor="middle" fill="#050505" font-weight="normal" >-5</text>
<text x="622.20" y="528.30" font-size="19.6" text-anchor="middle" fill="#050505" font-weight="normal" >0</text>
<text x="729.40" y="528.30" font-size="19.6" text-anchor="middle" fill="#050505" font-weight="normal" >5</text>
<text x="620.40" y="562.80" font-size="19.6" text-anchor="middle" fill="#050505" font-weight="normal" >Time lag (ms)</text>
<text x="0" y="0" font-size="19.6" text-anchor="middle" fill="#050505" transform="translate(463.30,410.90) rotate(-90)">z score</text>
<polyline points="95.90,768.14 137.06,714.41 178.22,684.83 219.38,665.60 260.54,650.32 301.70,638.49" fill="none" stroke="#111" stroke-width="1.6" stroke-linejoin="round" />
<line x1="137.06" y1="704.05" x2="137.06" y2="724.76" stroke="#111" stroke-width="1.5" />
<line x1="133.36" y1="704.05" x2="140.76" y2="704.05" stroke="#111" stroke-width="1.5" />
<line x1="133.36" y1="724.76" x2="140.76" y2="724.76" stroke="#111" stroke-width="1.5" />
<line x1="178.22" y1="671.02" x2="178.22" y2="698.63" stroke="#111" stroke-width="1.5" />
<line x1="174.52" y1="671.02" x2="181.92" y2="671.02" stroke="#111" stroke-width="1.5" />
<line x1="174.52" y1="698.63" x2="181.92" y2="698.63" stroke="#111" stroke-width="1.5" />
<line x1="219.38" y1="650.32" x2="219.38" y2="680.39" stroke="#111" stroke-width="1.5" />
<line x1="215.68" y1="650.32" x2="223.08" y2="650.32" stroke="#111" stroke-width="1.5" />
<line x1="215.68" y1="680.39" x2="223.08" y2="680.39" stroke="#111" stroke-width="1.5" />
<line x1="260.54" y1="634.05" x2="260.54" y2="666.59" stroke="#111" stroke-width="1.5" />
<line x1="256.84" y1="634.05" x2="264.24" y2="634.05" stroke="#111" stroke-width="1.5" />
<line x1="256.84" y1="666.59" x2="264.24" y2="666.59" stroke="#111" stroke-width="1.5" />
<line x1="301.70" y1="621.72" x2="301.70" y2="655.25" stroke="#111" stroke-width="1.5" />
<line x1="298.00" y1="621.72" x2="305.40" y2="621.72" stroke="#111" stroke-width="1.5" />
<line x1="298.00" y1="655.25" x2="305.40" y2="655.25" stroke="#111" stroke-width="1.5" />
<circle cx="95.90" cy="768.14" r="5.7" fill="#111"/>
<circle cx="137.06" cy="714.41" r="5.7" fill="#111"/>
<circle cx="178.22" cy="684.83" r="5.7" fill="#111"/>
<circle cx="219.38" cy="665.60" r="5.7" fill="#111"/>
<circle cx="260.54" cy="650.32" r="5.7" fill="#111"/>
<circle cx="301.70" cy="638.49" r="5.7" fill="#111"/>
<line x1="91.10" y1="612.00" x2="91.10" y2="790.60" stroke="#1a1a1a" stroke-width="1.5" />
<line x1="90.40" y1="789.90" x2="302.40" y2="789.90" stroke="#1a1a1a" stroke-width="1.5" />
<line x1="83.60" y1="785.40" x2="91.20" y2="785.40" stroke="#1a1a1a" stroke-width="1.5" />
<text x="76.20" y="793.90" font-size="19.6" text-anchor="end" fill="#050505" font-weight="normal" >0</text>
<line x1="83.60" y1="760.75" x2="91.20" y2="760.75" stroke="#1a1a1a" stroke-width="1.5" />
<text x="76.20" y="766.70" font-size="19.6" text-anchor="end" fill="#050505" font-weight="normal" >5</text>
<line x1="83.60" y1="736.10" x2="91.20" y2="736.10" stroke="#1a1a1a" stroke-width="1.5" />
<text x="76.20" y="741.60" font-size="19.6" text-anchor="end" fill="#050505" font-weight="normal" >10</text>
<line x1="83.60" y1="711.45" x2="91.20" y2="711.45" stroke="#1a1a1a" stroke-width="1.5" />
<text x="76.20" y="715.90" font-size="19.6" text-anchor="end" fill="#050505" font-weight="normal" >15</text>
<line x1="83.60" y1="686.80" x2="91.20" y2="686.80" stroke="#1a1a1a" stroke-width="1.5" />
<text x="76.20" y="690.80" font-size="19.6" text-anchor="end" fill="#050505" font-weight="normal" >20</text>
<line x1="83.60" y1="662.15" x2="91.20" y2="662.15" stroke="#1a1a1a" stroke-width="1.5" />
<text x="76.20" y="664.80" font-size="19.6" text-anchor="end" fill="#050505" font-weight="normal" >25</text>
<line x1="83.60" y1="637.50" x2="91.20" y2="637.50" stroke="#1a1a1a" stroke-width="1.5" />
<text x="76.20" y="641.30" font-size="19.6" text-anchor="end" fill="#050505" font-weight="normal" >30</text>
<line x1="83.60" y1="612.85" x2="91.20" y2="612.85" stroke="#1a1a1a" stroke-width="1.5" />
<text x="76.20" y="615.50" font-size="19.6" text-anchor="end" fill="#050505" font-weight="normal" >35</text>
<line x1="95.90" y1="789.90" x2="95.90" y2="797.00" stroke="#1a1a1a" stroke-width="1.5" />
<text x="95.90" y="820.50" font-size="19.6" text-anchor="middle" fill="#050505" font-weight="normal" >0</text>
<line x1="137.06" y1="789.90" x2="137.06" y2="797.00" stroke="#1a1a1a" stroke-width="1.5" />
<text x="137.06" y="820.50" font-size="19.6" text-anchor="middle" fill="#050505" font-weight="normal" >1</text>
<line x1="178.22" y1="789.90" x2="178.22" y2="797.00" stroke="#1a1a1a" stroke-width="1.5" />
<text x="178.22" y="820.50" font-size="19.6" text-anchor="middle" fill="#050505" font-weight="normal" >2</text>
<line x1="219.38" y1="789.90" x2="219.38" y2="797.00" stroke="#1a1a1a" stroke-width="1.5" />
<text x="219.38" y="820.50" font-size="19.6" text-anchor="middle" fill="#050505" font-weight="normal" >3</text>
<line x1="260.54" y1="789.90" x2="260.54" y2="797.00" stroke="#1a1a1a" stroke-width="1.5" />
<text x="260.54" y="820.50" font-size="19.6" text-anchor="middle" fill="#050505" font-weight="normal" >4</text>
<line x1="301.70" y1="789.90" x2="301.70" y2="797.00" stroke="#1a1a1a" stroke-width="1.5" />
<text x="301.70" y="820.50" font-size="19.6" text-anchor="middle" fill="#050505" font-weight="normal" >5</text>
<text x="199.50" y="853.30" font-size="19.6" text-anchor="middle" fill="#050505" font-weight="normal" >Time lag window (± ms)</text>
<text x="0" y="0" font-size="19.6" text-anchor="middle" fill="#050505" transform="translate(38.30,700.00) rotate(-90)">% Coincident spikes</text>
<rect x="513.00" y="782.00" width="211.00" height="6.00" fill="#bdbdbd" />
<line x1="513.00" y1="782.50" x2="724.00" y2="782.50" stroke="#222" stroke-width="1" stroke-dasharray="1 1.2"/>
<line x1="513.00" y1="787.50" x2="724.00" y2="787.50" stroke="#222" stroke-width="1" stroke-dasharray="1 1.2"/>
<line x1="723.50" y1="782.50" x2="723.50" y2="788.00" stroke="#333" stroke-width="1" stroke-dasharray="1 1"/>
<circle cx="517.16" cy="705.67" r="5.1" fill="#111"/>
<circle cx="517.37" cy="726.61" r="5.1" fill="#111"/>
<circle cx="520.96" cy="725.03" r="5.1" fill="#111"/>
<circle cx="533.01" cy="737.65" r="5.1" fill="#111"/>
<circle cx="521.60" cy="742.38" r="5.1" fill="#111"/>
<circle cx="518.85" cy="752.13" r="5.1" fill="#111"/>
<circle cx="523.92" cy="759.16" r="5.1" fill="#111"/>
<circle cx="516.53" cy="763.60" r="5.1" fill="#111"/>
<circle cx="518.22" cy="765.61" r="5.1" fill="#111"/>
<circle cx="521.81" cy="772.21" r="5.1" fill="#111"/>
<circle cx="517.58" cy="779.66" r="5.1" fill="#111"/>
<circle cx="540.61" cy="772.49" r="5.1" fill="#111"/>
<circle cx="548.01" cy="764.46" r="5.1" fill="#111"/>
<circle cx="549.70" cy="769.34" r="5.1" fill="#111"/>
<circle cx="562.59" cy="764.89" r="5.1" fill="#111"/>
<circle cx="576.96" cy="776.80" r="5.1" fill="#111"/>
<circle cx="582.24" cy="764.03" r="5.1" fill="#111"/>
<circle cx="593.23" cy="774.93" r="5.1" fill="#111"/>
<circle cx="606.75" cy="774.93" r="5.1" fill="#111"/>
<circle cx="664.44" cy="782.39" r="5.1" fill="#111"/>
<circle cx="694.65" cy="772.64" r="5.1" fill="#111"/>
<circle cx="518.22" cy="622.07" r="5.1" fill="#111"/>
<line x1="512.20" y1="613.10" x2="512.20" y2="792.90" stroke="#1a1a1a" stroke-width="1.5" />
<line x1="511.50" y1="792.20" x2="724.30" y2="792.20" stroke="#1a1a1a" stroke-width="1.5" />
<line x1="506.20" y1="785.40" x2="512.20" y2="785.40" stroke="#1a1a1a" stroke-width="1.5" />
<text x="499.30" y="791.50" font-size="19.6" text-anchor="end" fill="#050505" font-weight="normal" >0</text>
<line x1="506.20" y1="756.72" x2="512.20" y2="756.72" stroke="#1a1a1a" stroke-width="1.5" />
<text x="499.30" y="761.80" font-size="19.6" text-anchor="end" fill="#050505" font-weight="normal" >20</text>
<line x1="506.20" y1="728.04" x2="512.20" y2="728.04" stroke="#1a1a1a" stroke-width="1.5" />
<text x="499.30" y="732.70" font-size="19.6" text-anchor="end" fill="#050505" font-weight="normal" >40</text>
<line x1="506.20" y1="699.36" x2="512.20" y2="699.36" stroke="#1a1a1a" stroke-width="1.5" />
<text x="499.30" y="704.40" font-size="19.6" text-anchor="end" fill="#050505" font-weight="normal" >60</text>
<line x1="506.20" y1="670.68" x2="512.20" y2="670.68" stroke="#1a1a1a" stroke-width="1.5" />
<text x="499.30" y="676.00" font-size="19.6" text-anchor="end" fill="#050505" font-weight="normal" >80</text>
<line x1="506.20" y1="642.00" x2="512.20" y2="642.00" stroke="#1a1a1a" stroke-width="1.5" />
<text x="499.30" y="646.90" font-size="19.6" text-anchor="end" fill="#050505" font-weight="normal" >100</text>
<line x1="506.20" y1="613.32" x2="512.20" y2="613.32" stroke="#1a1a1a" stroke-width="1.5" />
<text x="499.30" y="618.30" font-size="19.6" text-anchor="end" fill="#050505" font-weight="normal" >120</text>
<line x1="512.30" y1="792.20" x2="512.30" y2="797.60" stroke="#1a1a1a" stroke-width="1.5" />
<text x="509.70" y="820.00" font-size="19.6" text-anchor="middle" fill="#050505" font-weight="normal" >0</text>
<line x1="554.56" y1="792.20" x2="554.56" y2="797.60" stroke="#1a1a1a" stroke-width="1.5" />
<text x="554.56" y="820.00" font-size="19.6" text-anchor="middle" fill="#050505" font-weight="normal" >200</text>
<line x1="596.82" y1="792.20" x2="596.82" y2="797.60" stroke="#1a1a1a" stroke-width="1.5" />
<text x="596.82" y="820.00" font-size="19.6" text-anchor="middle" fill="#050505" font-weight="normal" >400</text>
<line x1="639.08" y1="792.20" x2="639.08" y2="797.60" stroke="#1a1a1a" stroke-width="1.5" />
<text x="639.08" y="820.00" font-size="19.6" text-anchor="middle" fill="#050505" font-weight="normal" >600</text>
<line x1="681.34" y1="792.20" x2="681.34" y2="797.60" stroke="#1a1a1a" stroke-width="1.5" />
<text x="681.34" y="820.00" font-size="19.6" text-anchor="middle" fill="#050505" font-weight="normal" >800</text>
<line x1="723.60" y1="792.20" x2="723.60" y2="797.60" stroke="#1a1a1a" stroke-width="1.5" />
<text x="723.60" y="820.00" font-size="19.6" text-anchor="middle" fill="#050505" font-weight="normal" >1000</text>
<text x="623.90" y="854.40" font-size="19.6" text-anchor="middle" fill="#050505" font-weight="normal" >Inter-somatic distance (μm)</text>
<text x="0" y="0" font-size="19.6" text-anchor="middle" fill="#050505" transform="translate(463.30,693.00) rotate(-90)">z score</text>
</svg>
</body></html>
